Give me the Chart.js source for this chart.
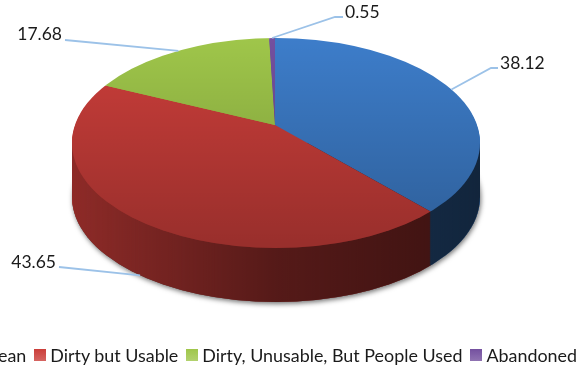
<!DOCTYPE html>
<html>
<head>
<meta charset="utf-8">
<script src="https://cdn.jsdelivr.net/npm/chart.js@4"></script>
<style>
    html, body { margin: 0; padding: 0; background: #fff; overflow: hidden; width: 586px; height: 374px; }
    #wrap { position: relative; width: 586px; height: 374px; overflow: hidden; }
    #legend { position: absolute; right: 9px; top: 344px; display: flex; white-space: nowrap; font: 17.9px Lato, sans-serif; color: #1a1a1a; line-height: 22px; }
    #legend span.item { display: flex; align-items: center; margin-left: 8px; }
    #legend i { display: block; width: 12px; height: 12px; margin-right: 4px; }
</style>
</head>
<body>
<div id="wrap">
    <canvas id="pieChart" width="586" height="374"></canvas>
    <div id="legend"></div>
</div>
<script>
var categories = ['Clean', 'Dirty but Usable', 'Dirty, Unusable, But People Used', 'Abandoned'];
var seriesValues = [38.12, 43.65, 17.68, 0.55];
var sliceColors = ['#3d7dca', '#cb3e3a', '#9fc64a', '#74509f'];

// shape of the fake 3D disc
var pivot = { x: 275, y: 125 };
var rim = { x: 276, y: 143, rx: 204, ry: 105 };
var depth = 54;
var squash = rim.ry / rim.rx;

// label text position and where the leader line bends, per slice
var labelBoxes = [
    { x: 500, y: 62, align: 'left', bendX: 491, bendY: 68, endX: 498, floor: 0 },
    { x: 56, y: 261, align: 'right', bendX: 59, bendY: 267, endX: 59, floor: depth },
    { x: 62, y: 33, align: 'right', bendX: 65, bendY: 40, endX: 65, floor: 0 },
    { x: 345, y: 11, align: 'left', bendX: 335, bendY: 17, endX: 343, floor: 0 }
];

function ellipsePath(ctx, dy) {
    ctx.beginPath();
    ctx.ellipse(rim.x, rim.y + dy, rim.rx, rim.ry, 0, 0, Math.PI * 2);
}

function drawSlices(ctx, chart, dy) {
    var arcs = chart.getDatasetMeta(0).data;
    ctx.save();
    ellipsePath(ctx, dy);
    ctx.clip();
    ctx.translate(pivot.x, pivot.y + dy);
    ctx.scale(1, squash);
    ctx.translate(-arcs[0].x, -arcs[0].y);
    arcs.forEach(function(arc) { arc.draw(ctx); });
    ctx.restore();
}

// where a slice's middle ray leaves the rim
function rimPoint(arc, dy) {
    var mid = (arc.startAngle + arc.endAngle) / 2;
    var dx = Math.cos(mid);
    var dh = Math.sin(mid) * squash;
    var ox = (pivot.x - rim.x) / rim.rx;
    var oy = (pivot.y - rim.y) / rim.ry;
    var ax = dx / rim.rx;
    var ay = dh / rim.ry;
    var a = ax * ax + ay * ay;
    var b = 2 * (ox * ax + oy * ay);
    var c = ox * ox + oy * oy - 1;
    var t = (-b + Math.sqrt(b * b - 4 * a * c)) / (2 * a);
    return { x: pivot.x + dx * t, y: pivot.y + dy + dh * t };
}

var disc3d = {
    id: 'disc3d',
    beforeDatasetsDraw: function(chart) {
        var ctx = chart.ctx;

        // soft shadow under the disc
        ctx.save();
        ctx.shadowColor = 'rgba(0,0,0,0.55)';
        ctx.shadowBlur = 5;
        ctx.shadowOffsetY = 2;
        ctx.shadowOffsetX = 1;
        ctx.fillStyle = '#333';
        ellipsePath(ctx, depth);
        ctx.fill();
        ctx.restore();

        // side wall, stacked from the bottom up
        for (var d = depth; d > 0; d--) {
            drawSlices(ctx, chart, d);
        }

        // darken the wall left to right
        var wall = ctx.createLinearGradient(rim.x - rim.rx, 0, rim.x + rim.rx, 0);
        wall.addColorStop(0, 'rgba(0,0,0,0.30)');
        wall.addColorStop(0.05, 'rgba(0,0,0,0.33)');
        wall.addColorStop(0.5, 'rgba(0,0,0,0.58)');
        wall.addColorStop(0.8, 'rgba(0,0,0,0.66)');
        wall.addColorStop(1, 'rgba(0,0,0,0.70)');
        ctx.save();
        ctx.beginPath();
        ctx.ellipse(rim.x, rim.y + depth, rim.rx, rim.ry, 0, 0, Math.PI);
        ctx.lineTo(rim.x - rim.rx, rim.y);
        ctx.lineTo(rim.x + rim.rx, rim.y);
        ctx.closePath();
        ctx.fillStyle = wall;
        ctx.fill();
        ctx.restore();

        // top face with a vertical shade
        drawSlices(ctx, chart, 0);
        var shade = ctx.createLinearGradient(0, rim.y - rim.ry, 0, rim.y + rim.ry);
        shade.addColorStop(0, 'rgba(0,0,0,0)');
        shade.addColorStop(1, 'rgba(0,0,0,0.25)');
        ctx.save();
        ellipsePath(ctx, 0);
        ctx.fillStyle = shade;
        ctx.fill();
        ctx.restore();

        // leader lines and value labels
        var arcs = chart.getDatasetMeta(0).data;
        ctx.save();
        ctx.strokeStyle = '#9cc2e8';
        ctx.lineWidth = 1.8;
        ctx.font = '17.5px Lato, sans-serif';
        ctx.fillStyle = '#1a1a1a';
        ctx.textBaseline = 'middle';
        arcs.forEach(function(arc, i) {
            var box = labelBoxes[i];
            var from = rimPoint(arc, box.floor);
            ctx.beginPath();
            ctx.moveTo(from.x, from.y);
            ctx.lineTo(box.bendX, box.bendY);
            ctx.lineTo(box.endX, box.bendY);
            ctx.stroke();
            ctx.textAlign = box.align;
            ctx.fillText(seriesValues[i].toFixed(2), box.x, box.y + 1);
        });
        ctx.restore();

        return false;
    }
};

new Chart(document.getElementById('pieChart').getContext('2d'), {
    type: 'pie',
    data: {
        labels: categories,
        datasets: [{
            data: seriesValues,
            backgroundColor: sliceColors,
            borderWidth: 0,
            radius: 340,
            clip: false
        }]
    },
    options: {
        responsive: false,
        animation: false,
        events: [],
        plugins: {
            legend: { display: false },
            tooltip: { enabled: false }
        }
    },
    plugins: [disc3d]
});

// legend runs off the left edge like the source image
var legendBox = document.getElementById('legend');
categories.forEach(function(name, i) {
    var item = document.createElement('span');
    item.className = 'item';
    var swatch = document.createElement('i');
    swatch.style.background = 'linear-gradient(' + sliceColors[i] + ', ' + sliceColors[i] + 'cc)';
    item.appendChild(swatch);
    item.appendChild(document.createTextNode(name));
    legendBox.appendChild(item);
});
</script>
</body>
</html>
